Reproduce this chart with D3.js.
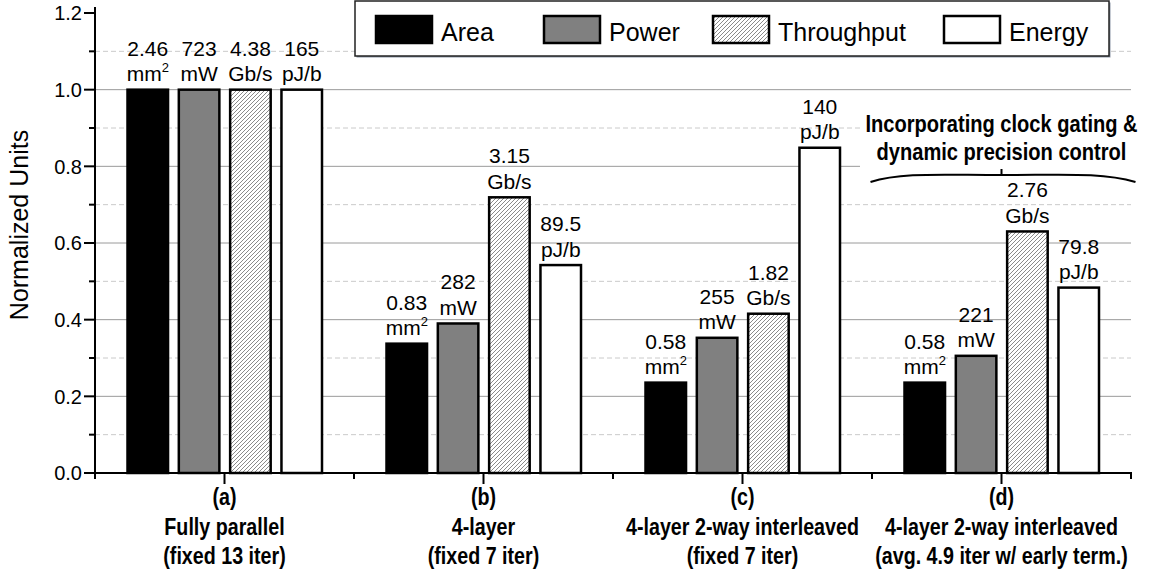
<!DOCTYPE html>
<html>
<head>
<meta charset="utf-8">
<script src="https://cdn.jsdelivr.net/npm/d3@7"></script>
<style>
  html, body { margin: 0; padding: 0; background: #fff; }
  svg text { font-family: "Liberation Sans", Arial, Helvetica, sans-serif; }
</style>
</head>
<body>
<svg id="chart" width="1151" height="573"></svg>
<script>
// Design points
const categories = ["(a)", "(b)", "(c)", "(d)"];
const categoryNames = ["Fully parallel", "4-layer", "4-layer 2-way interleaved", "4-layer 2-way interleaved"];
const categoryNotes = ["(fixed 13 iter)", "(fixed 7 iter)", "(fixed 7 iter)", "(avg. 4.9 iter w/ early term.)"];

// Metrics (absolute values, normalized to the fully parallel design)
const seriesNames = ["Area", "Power", "Throughput", "Energy"];
const areaValues = [2.46, 0.83, 0.58, 0.58];        // mm^2
const powerValues = [723, 282, 255, 221];           // mW
const throughputValues = [4.38, 3.15, 1.82, 2.76];  // Gb/s
const energyValues = [165, 89.5, 140, 79.8];        // pJ/b
const seriesUnits = ["mm", "mW", "Gb/s", "pJ/b"];

const yMajorTicks = [0, 0.2, 0.4, 0.6, 0.8, 1.0, 1.2];
const yMinorTicks = [0.1, 0.3, 0.5, 0.7, 0.9, 1.1];

const annotationLines = ["Incorporating clock gating &", "dynamic precision control"];

const seriesValues = [areaValues, powerValues, throughputValues, energyValues];

const svg = d3.select("#chart");

// Condensed bold face for category and annotation text; fall back to a
// horizontally squeezed regular face when the narrow family is missing.
const probe = svg.append("text").attr("font-size", 50).attr("font-weight", "bold").text("abcdefghijklmn");
probe.attr("font-family", "'Liberation Sans Narrow'");
const wNarrow = probe.node().getComputedTextLength();
probe.attr("font-family", "'Liberation Sans'");
const wWide = probe.node().getComputedTextLength();
probe.remove();
const hasNarrow = wNarrow < wWide * 0.9;
function boldNarrow(sel, size) {
  if (hasNarrow) {
    sel.attr("font-family", "'Liberation Sans Narrow', 'Arial Narrow', sans-serif").attr("font-size", size);
  } else {
    sel.attr("font-size", size).attr("transform", function () {
      const ax = +d3.select(this).attr("data-ax");
      return `translate(${ax},0) scale(0.82,1) translate(${-ax},0)`;
    });
  }
  sel.attr("font-weight", "bold");
}

// Hatch for throughput bars
const defs = svg.append("defs");
const hatch = defs.append("pattern")
  .attr("id", "hatch").attr("patternUnits", "userSpaceOnUse")
  .attr("width", 4).attr("height", 4);
hatch.append("rect").attr("width", 4).attr("height", 4).attr("fill", "#fff");
hatch.append("path").attr("d", "M-1,1 l2,-2 M0,4 l4,-4 M3,5 l2,-2")
  .attr("stroke", "#8a8a8a").attr("stroke-width", 1);

const fills = ["#000", "#808080", "url(#hatch)", "#fff"];

const plotLeft = 95, plotRight = 1131, plotTop = 13, plotBottom = 473;

const y = d3.scaleLinear().domain([0, 1.2]).range([plotBottom, plotTop]);
const x0 = d3.scaleBand().domain(categories).range([plotLeft, plotRight]).padding(0);
const x1 = d3.scaleBand().domain(seriesNames).range([32.5, 227]).paddingInner(0.21).paddingOuter(0);

// Gridlines
svg.append("g").selectAll("line").data(yMinorTicks).join("line")
  .attr("x1", plotLeft).attr("x2", plotRight)
  .attr("y1", d => y(d)).attr("y2", d => y(d))
  .attr("stroke", "#cacaca").attr("stroke-width", 1).attr("stroke-dasharray", "5,3");
svg.append("g").selectAll("line").data(yMajorTicks.filter(d => d > 0 && d < 1.2)).join("line")
  .attr("x1", plotLeft).attr("x2", plotRight)
  .attr("y1", d => y(d)).attr("y2", d => y(d))
  .attr("stroke", "#9a9a9a").attr("stroke-width", 1);

// Annotation backdrop
svg.append("rect").attr("x", 860).attr("y", 110).attr("width", 280).attr("height", 62).attr("fill", "#fff");

// Bars
const rows = categories.map((c, i) => ({
  cat: c,
  items: seriesNames.map((s, k) => ({
    series: s, k,
    raw: seriesValues[k][i],
    value: seriesValues[k][i] / seriesValues[k][0]
  }))
}));

const groups = svg.append("g").selectAll("g").data(rows).join("g")
  .attr("transform", d => `translate(${x0(d.cat)},0)`);

groups.selectAll("rect").data(d => d.items).join("rect")
  .attr("x", d => x1(d.series))
  .attr("width", x1.bandwidth())
  .attr("y", d => y(d.value))
  .attr("height", d => y(0) - y(d.value))
  .attr("fill", d => fills[d.k])
  .attr("stroke", "#000").attr("stroke-width", 2.5);

// Value labels
const labels = groups.selectAll("g.lbl").data(d => d.items).join("g").attr("class", "lbl");
labels.append("text")
  .attr("x", d => x1(d.series) + x1.bandwidth() / 2)
  .attr("y", d => y(d.value) - 34)
  .attr("text-anchor", "middle").attr("font-size", 21).attr("fill", "#000")
  .text(d => String(d.raw));
const unitText = labels.append("text")
  .attr("x", d => x1(d.series) + x1.bandwidth() / 2)
  .attr("y", d => y(d.value) - 8.5)
  .attr("text-anchor", "middle").attr("font-size", 21).attr("fill", "#000");
unitText.append("tspan").text(d => seriesUnits[d.k]);
unitText.filter(d => d.k === 0).append("tspan")
  .attr("font-size", 13).attr("dy", -9).text("2");

// Y axis
const yAxis = svg.append("g");
yAxis.append("line").attr("x1", plotLeft).attr("x2", plotLeft)
  .attr("y1", plotTop - 6).attr("y2", plotBottom)
  .attr("stroke", "#000").attr("stroke-width", 2);
yAxis.selectAll("line.maj").data(yMajorTicks).join("line").attr("class", "maj")
  .attr("x1", plotLeft - 11).attr("x2", plotLeft)
  .attr("y1", d => y(d)).attr("y2", d => y(d))
  .attr("stroke", "#000").attr("stroke-width", 2);
yAxis.selectAll("line.min").data(yMinorTicks).join("line").attr("class", "min")
  .attr("x1", plotLeft - 6).attr("x2", plotLeft)
  .attr("y1", d => y(d)).attr("y2", d => y(d))
  .attr("stroke", "#000").attr("stroke-width", 2);
yAxis.selectAll("text").data(yMajorTicks).join("text")
  .attr("x", 82).attr("y", d => y(d)).attr("dy", "0.36em")
  .attr("text-anchor", "end").attr("font-size", 20).attr("fill", "#000")
  .text(d => d3.format(".1f")(d));

svg.append("text")
  .attr("transform", `translate(28,225) rotate(-90)`)
  .attr("text-anchor", "middle").attr("font-size", 25).attr("fill", "#000")
  .text("Normalized Units");

// X axis
const xAxis = svg.append("g");
xAxis.append("line").attr("x1", plotLeft - 1).attr("x2", plotRight + 1)
  .attr("y1", plotBottom).attr("y2", plotBottom)
  .attr("stroke", "#000").attr("stroke-width", 2);
const bounds = categories.map(c => x0(c)).concat([plotRight]);
xAxis.selectAll("line.b").data(bounds).join("line").attr("class", "b")
  .attr("x1", d => d).attr("x2", d => d)
  .attr("y1", plotBottom).attr("y2", plotBottom + 6)
  .attr("stroke", "#000").attr("stroke-width", 2);
xAxis.selectAll("line.c").data(categories).join("line").attr("class", "c")
  .attr("x1", d => x0(d) + x0.bandwidth() / 2).attr("x2", d => x0(d) + x0.bandwidth() / 2)
  .attr("y1", plotBottom).attr("y2", plotBottom + 11)
  .attr("stroke", "#000").attr("stroke-width", 2);

const catLabel = xAxis.selectAll("text").data(categories).join("text")
  .attr("data-ax", d => x0(d) + x0.bandwidth() / 2)
  .attr("text-anchor", "middle").attr("fill", "#000");
boldNarrow(catLabel, 24);
[[d => d, 505], [(d, i) => categoryNames[i], 535], [(d, i) => categoryNotes[i], 564]].forEach(([f, yy]) => {
  catLabel.append("tspan")
    .attr("x", d => x0(d) + x0.bandwidth() / 2).attr("y", yy)
    .text(f);
});

// Annotation with brace
const annX = x0("(d)") + x0.bandwidth() / 2;
const annText = svg.append("g").selectAll("text").data(annotationLines).join("text")
  .attr("data-ax", annX)
  .attr("x", annX).attr("y", (d, i) => 132 + i * 28.5)
  .attr("text-anchor", "middle").attr("fill", "#000")
  .text(d => d);
boldNarrow(annText, 24.5);
svg.append("path")
  .attr("d", `M${annX - 131},182 C${annX - 100},172 ${annX - 60},175 ${annX},175 C${annX + 60},175 ${annX + 100},172 ${annX + 134},182 M${annX},175 L${annX},169`)
  .attr("fill", "none").attr("stroke", "#000").attr("stroke-width", 2);

// Legend
const legend = svg.append("g");
legend.append("rect").attr("x", 356.5).attr("y", 2.5).attr("width", 754).attr("height", 55)
  .attr("fill", "#8e98a8");
legend.append("rect").attr("x", 355).attr("y", 1).attr("width", 754).attr("height", 55)
  .attr("fill", "#fff").attr("stroke", "#222").attr("stroke-width", 1.5);
const legendX = [375, 543, 712, 943];
const li = legend.selectAll("g.item").data(seriesNames).join("g").attr("class", "item")
  .attr("transform", (d, i) => `translate(${legendX[i]},0)`);
li.append("rect").attr("x", 1).attr("y", 16).attr("width", 56).attr("height", 27)
  .attr("fill", (d, i) => fills[i]).attr("stroke", "#000").attr("stroke-width", 2.5);
li.append("text").attr("x", 66).attr("y", 41).attr("font-size", 25).attr("fill", "#000").text(d => d);
</script>
</body>
</html>
